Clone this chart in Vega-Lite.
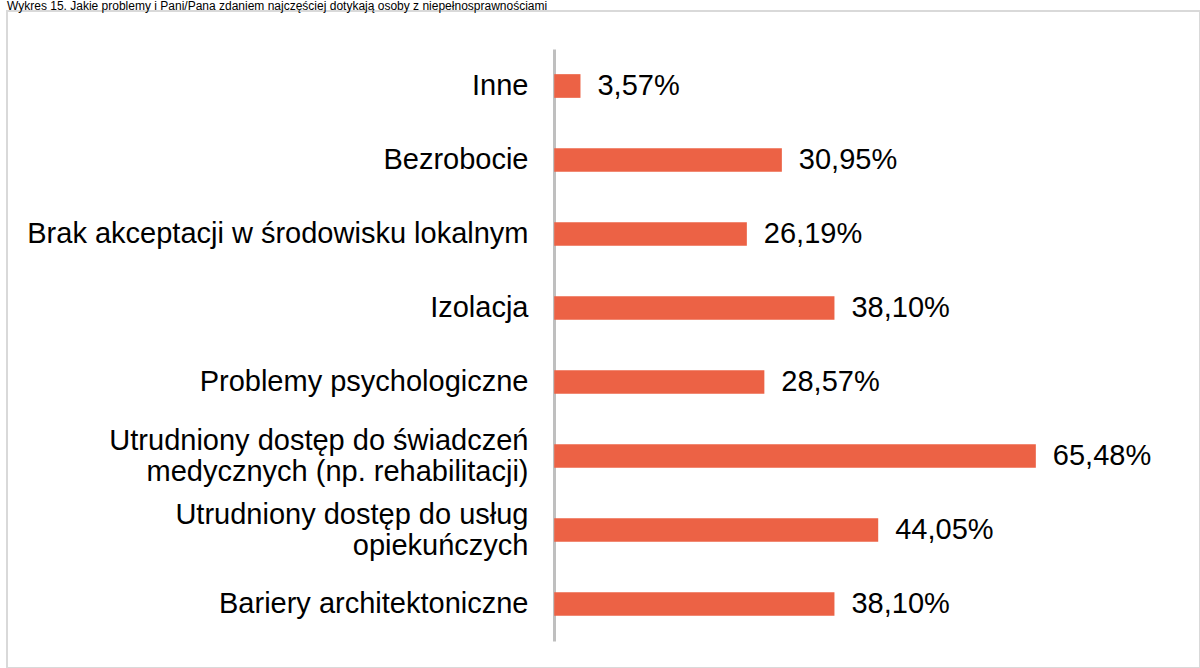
{
  "$schema": "https://vega.github.io/schema/vega-lite/v6.json",
  "width": 1200,
  "height": 668,
  "autosize": {"type": "fit", "contains": "padding"},
  "padding": {"left": 7, "top": 0, "right": 0, "bottom": 0},
  "title": {
    "text": "Wykres 15. Jakie problemy i Pani/Pana zdaniem najczęściej dotykają osoby z niepełnosprawnościami",
    "anchor": "start",
    "frame": "bounds",
    "fontSize": 12,
    "font": "Liberation Sans",
    "fontWeight": "normal",
    "color": "#000000",
    "offset": -2
  },
  "config": {
    "locale": {"number": {"decimal": ",", "thousands": " ", "grouping": [3], "currency": ["", " zł"]}},
    "view": {"stroke": "#d9d9d9", "strokeWidth": 2},
    "font": "Liberation Sans"
  },
  "data": {
    "values": [
      {"kategoria": "Inne", "wartosc": 0.0357},
      {"kategoria": "Bezrobocie", "wartosc": 0.3095},
      {"kategoria": "Brak akceptacji w środowisku lokalnym", "wartosc": 0.2619},
      {"kategoria": "Izolacja", "wartosc": 0.3810},
      {"kategoria": "Problemy psychologiczne", "wartosc": 0.2857},
      {"kategoria": "Utrudniony dostęp do świadczeń|medycznych (np. rehabilitacji)", "wartosc": 0.6548},
      {"kategoria": "Utrudniony dostęp do usług|opiekuńczych", "wartosc": 0.4405},
      {"kategoria": "Bariery architektoniczne", "wartosc": 0.3810}
    ]
  },
  "encoding": {
    "y": {
      "field": "kategoria",
      "type": "nominal",
      "sort": null,
      "scale": {"range": [38, 630], "paddingInner": 0, "paddingOuter": 0},
      "axis": {
        "title": null,
        "offset": -547,
        "domainColor": "#bfbfbf",
        "domainWidth": 3,
        "ticks": false,
        "labelFontSize": 29,
        "labelFont": "Liberation Sans",
        "labelColor": "#000000",
        "labelPadding": 26,
        "labelLimit": 0,
        "labelLineHeight": 31,
        "labelOffset": {"condition": {"test": "indexof(datum.label, '|') >= 0", "value": -15}, "value": 0},
        "labelExpr": "split(datum.label, '|')"
      }
    },
    "x": {
      "field": "wartosc",
      "type": "quantitative",
      "scale": {"domain": [-0.744, 0.878]},
      "axis": null
    }
  },
  "layer": [
    {"mark": {"type": "bar", "color": "#ec6245", "height": {"band": 0.32}}},
    {
      "mark": {"type": "text", "align": "left", "baseline": "middle", "dx": 17, "fontSize": 29, "font": "Liberation Sans", "color": "#000000"},
      "encoding": {"text": {"field": "wartosc", "type": "quantitative", "format": ".2%"}}
    }
  ]
}
